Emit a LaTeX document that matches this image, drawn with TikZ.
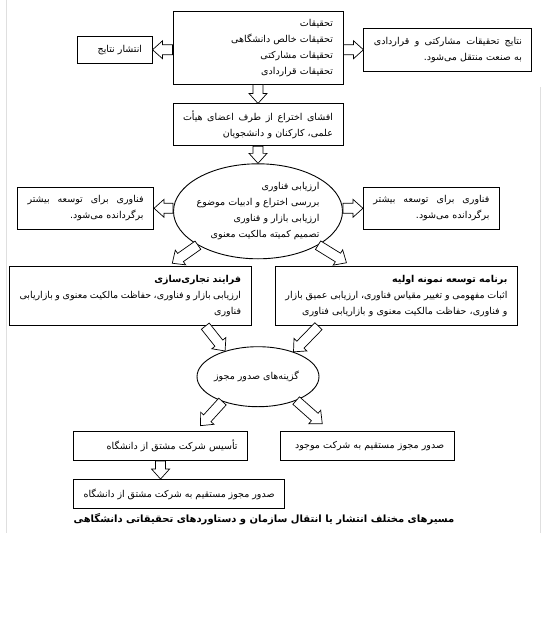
\documentclass[tikz,border=0pt]{standalone}
\usepackage{fontspec}
\newfontfamily\fa[Script=Arabic]{DejaVu Sans}
\TeXXeTstate=1
\usetikzlibrary{shapes.geometric,positioning,calc}
\newcommand\rtline[1]{\beginR #1\endR}

\begin{document}
\begin{tikzpicture}[x=1pt,y=1pt,
      font=\fa\fontsize{9.5}{16}\selectfont,
      box/.style={rectangle,draw=black,line width=0.9pt,
                  inner xsep=10pt,inner ysep=0pt,align=right},
      oval/.style={ellipse,draw=black,line width=0.9pt,
                   inner sep=-5pt,align=right},
      title/.style={font=\fa\fontsize{10}{12}\selectfont\bfseries,inner sep=0pt},
      fat/.style={draw,line width=0.7pt,fill=white,line join=miter,
        to path={
          let \p1=(\tikztostart), \p2=(\tikztotarget),
              \n1={atan2(\y2-\y1,\x2-\x1)},
              \n2={veclen(\x2-\x1,\y2-\y1)} in
          ($(\p1)+(\n1+90:5pt)$)
          -- ($(\p1)+(\n1:\n2-10pt)+(\n1+90:5pt)$)
          -- ($(\p1)+(\n1:\n2-10pt)+(\n1+90:9pt)$)
          -- (\p2)
          -- ($(\p1)+(\n1:\n2-10pt)+(\n1-90:9pt)$)
          -- ($(\p1)+(\n1:\n2-10pt)+(\n1-90:5pt)$)
          -- ($(\p1)+(\n1-90:5pt)$) -- cycle
        }},
    ]
      \useasboundingbox (0,0) rectangle (545,-629);
      \draw[gray!25] (6,0) -- (6,-533);
      \draw[gray!25] (540.5,-87) -- (540.5,-533);

      \node[box, text width=150pt, minimum height=72.5pt] (research) at (258,-47.75) {
        \rtline{تحقیقات}\\
        \rtline{تحقیقات خالص دانشگاهی}\\
        \rtline{تحقیقات مشارکتی}\\
        \rtline{تحقیقات قراردادی}
      };
      \node[box, text width=55pt, minimum height=26.5pt, left=20pt of research, yshift=-2pt] (publish) {
        \rtline{انتشار نتایج}
      };
      \node[box, text width=148pt, minimum height=42.5pt, right=20pt of research, yshift=-2pt] (transfer) {
        \rtline{نتایج\hfill تحقیقات\hfill مشارکتی\hfill و\hfill قراردادی}\\
        \rtline{به صنعت منتقل می^^^^200cشود.}
      };
      \node[box, text width=150pt, minimum height=42pt, below=19pt of research] (disclose) {
        \rtline{افشای\hfill اختراع\hfill از\hfill طرف\hfill اعضای\hfill هیأت}\\
        \rtline{علمی، کارکنان و دانشجویان}
      };
      \node[oval, minimum width=169pt, minimum height=95pt, below=17pt of disclose] (assess) {
        \rtline{ارزیابی فناوری}\\
        \rtline{بررسی اختراع و ادبیات موضوع}\\
        \rtline{ارزیابی بازار و فناوری}\\
        \rtline{تصمیم کمیته مالکیت معنوی}
      };
      \node[box, text width=116pt, minimum height=42.5pt, left=19pt of assess, yshift=3pt] (backleft) {
        \rtline{فناوری\hfill برای\hfill توسعه\hfill بیشتر}\\
        \rtline{برگردانده می^^^^200cشود.}
      };
      \node[box, text width=116pt, minimum height=42.5pt, right=20pt of assess, yshift=3pt] (backright) {
        \rtline{فناوری\hfill برای\hfill توسعه\hfill بیشتر}\\
        \rtline{برگردانده می^^^^200cشود.}
      };
      \node[box, text width=221.5pt, minimum height=59pt, below left=7pt and 6.5pt of assess.south] (commercial) {
        \rtline{\textbf{فرایند تجاری^^^^200cسازی}}\\
        \rtline{ارزیابی\hfill بازار\hfill و\hfill فناوری،\hfill حفاظت\hfill مالکیت\hfill معنوی\hfill و\hfill بازاریابی}\\
        \rtline{فناوری}
      };
      \node[box, text width=222pt, minimum height=59.5pt, below right=6.5pt and 17pt of assess.south] (prototype) {
        \rtline{\textbf{برنامه توسعه نمونه اولیه}}\\
        \rtline{اثبات\hfill مفهومی\hfill و\hfill تغییر\hfill مقیاس\hfill فناوری،\hfill ارزیابی\hfill عمیق\hfill بازار}\\
        \rtline{و فناوری، حفاظت مالکیت معنوی و بازاریابی فناوری}
      };
      \node[oval, minimum width=122pt, minimum height=60pt, below=87pt of assess] (license) {
        \rtline{گزینه^^^^200cهای صدور مجوز}
      };
      \node[box, text width=154pt, minimum height=29.5pt, below left=23.5pt and 10pt of license.south] (spinoff) {
        \rtline{تأسیس شرکت مشتق از دانشگاه}
      };
      \node[box, text width=153.6pt, minimum height=29.5pt, below right=23.5pt and 22pt of license.south] (direct) {
        \rtline{صدور مجوز مستقیم به شرکت موجود}
      };
      \node[box, text width=191pt, minimum height=29pt, below right=18pt and 0pt of spinoff.south west] (spinlicense) {
        \rtline{صدور\hfill مجوز\hfill مستقیم\hfill به\hfill شرکت\hfill مشتق\hfill از\hfill دانشگاه}
      };
      \node[title, anchor=north east] (caption) at ([yshift=-4pt]spinlicense.south -| direct.east) {
        \rtline{مسیرهای مختلف انتشار یا انتقال سازمان و دستاوردهای تحقیقاتی دانشگاهی}
      };

      \draw[fat] (publish.east -| research.west) to (publish.east);
      \draw[fat] (transfer.west -| research.east) to (transfer.west);
      \draw[fat] (research.south) to (disclose.north);
      \draw[fat] (disclose.south) to (assess.north);
      \draw[fat] (backleft.east -| assess.west) to (backleft.east);
      \draw[fat] (backright.west -| assess.east) to (backright.west);
      \draw[fat] (assess.south west) to ([xshift=42pt,yshift=3pt]commercial.north);
      \draw[fat] (assess.south east) to ([xshift=-50pt,yshift=3pt]prototype.north);
      \draw[fat] ([xshift=75pt]commercial.south) to (license.142);
      \draw[fat] ([xshift=-78pt]prototype.south) to (license.35);
      \draw[fat] (license.215) to ([xshift=40pt,yshift=5pt]spinoff.north);
      \draw[fat] (license.-32) to ([xshift=-45pt,yshift=7pt]direct.north);
      \draw[fat] (spinoff.south) to (spinoff.south |- spinlicense.north);
    \end{tikzpicture}
\end{document}
